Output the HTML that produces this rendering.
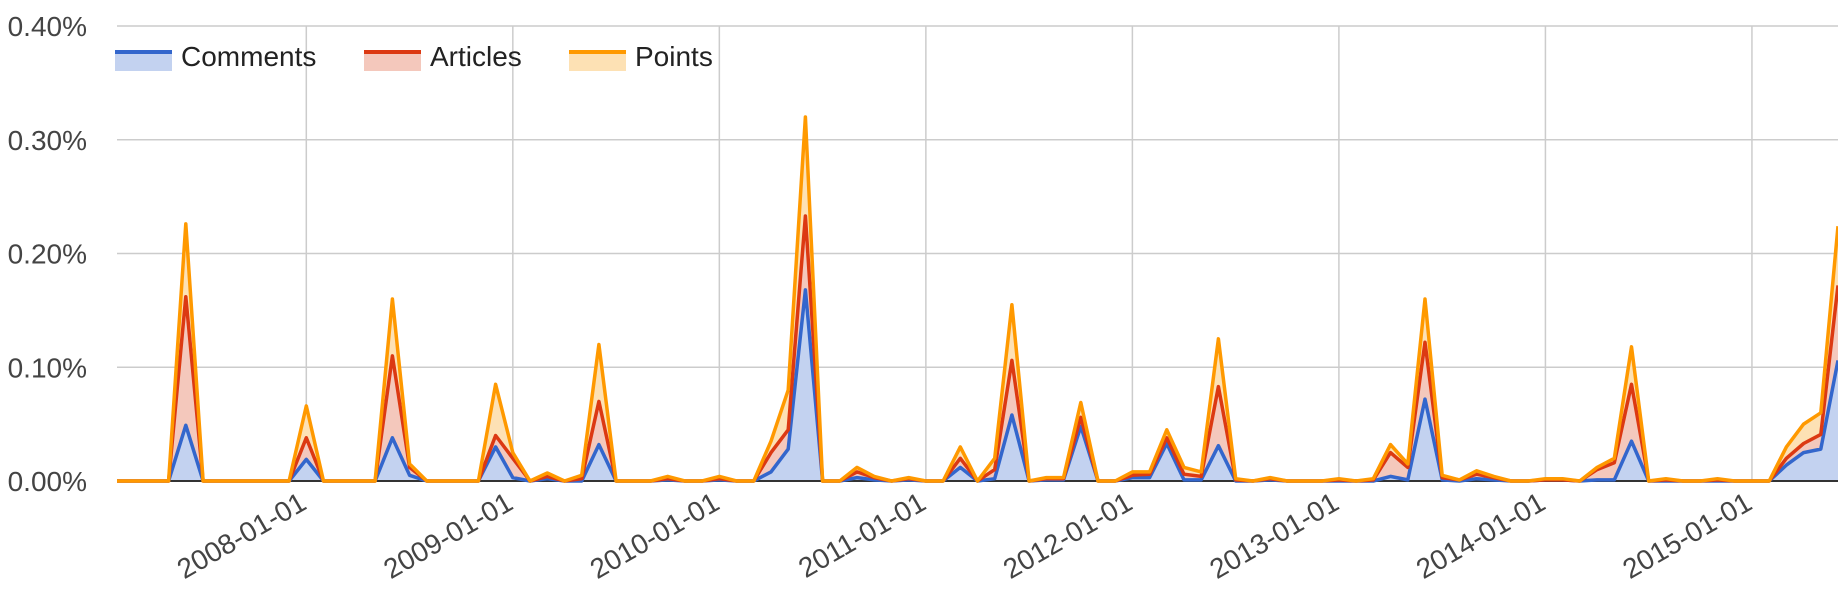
<!DOCTYPE html>
<html><head><meta charset="utf-8"><style>
html,body{margin:0;padding:0;background:#fff;width:1838px;height:590px;overflow:hidden}
svg text{font-family:"Liberation Sans",Arial,sans-serif;fill:#444}
</style></head><body>
<svg id="chart" width="1838" height="590" xmlns="http://www.w3.org/2000/svg">
<g id="grid"></g>
<g id="areas"></g>
<g id="ylabels"></g>
<g id="xlabels"></g>
<g id="legend"></g>
</svg>
<script>
// months from 2007-02 to 2015-06 (101 points)
const startYear = 2007, startMonth = 1; // 0-based month: Feb
const comments = [0,0,0,0,0.049,0,0,0,0,0,0,0.019,0,0,0,0,0.038,0.005,0,0,0,0,0.030,0.003,0,0.002,0,0,0.032,0,0,0,0.001,0,0,0.001,0,0,0.008,0.028,0.168,0,0,0.003,0.001,0,0.001,0,0,0.012,0,0.002,0.058,0,0.001,0.001,0.048,0,0,0.003,0.003,0.033,0.001,0.001,0.031,0,0,0.001,0,0,0,0,0,0,0.004,0.001,0.072,0.001,0,0.002,0.001,0,0,0.001,0.001,0,0.001,0.001,0.035,0,0,0,0,0,0,0,0,0.014,0.025,0.028,0.106];
const articles = [0,0,0,0,0.162,0,0,0,0,0,0,0.038,0,0,0,0,0.110,0.012,0,0,0,0,0.040,0.020,0,0.004,0,0.002,0.070,0,0,0,0.002,0,0,0.002,0,0,0.025,0.045,0.233,0,0,0.008,0.003,0,0.002,0,0,0.020,0,0.010,0.106,0,0.002,0.002,0.056,0,0,0.005,0.006,0.038,0.006,0.004,0.083,0.001,0,0.002,0,0,0,0.001,0,0.001,0.025,0.012,0.122,0.003,0.001,0.006,0.003,0,0,0.001,0.001,0,0.010,0.016,0.085,0,0.001,0,0,0.001,0,0,0,0.020,0.033,0.041,0.172];
const points = [0,0,0,0,0.226,0,0,0,0,0,0,0.066,0,0,0,0,0.160,0.015,0,0,0,0,0.085,0.025,0,0.007,0,0.005,0.120,0,0,0,0.004,0,0,0.004,0,0,0.035,0.080,0.320,0,0,0.012,0.004,0,0.003,0,0,0.030,0,0.020,0.155,0,0.003,0.003,0.069,0,0,0.008,0.008,0.045,0.012,0.008,0.125,0.002,0,0.003,0,0,0,0.002,0,0.002,0.032,0.015,0.160,0.005,0.001,0.009,0.004,0,0,0.002,0.002,0,0.012,0.020,0.118,0,0.002,0,0,0.002,0,0,0,0.030,0.050,0.060,0.224];
const yTicks = [0,0.1,0.2,0.3,0.4];
const yTickLabels = ["0.00%","0.10%","0.20%","0.30%","0.40%"];
const xTickYears = [2008,2009,2010,2011,2012,2013,2014,2015];
const seriesNames = ["Comments","Articles","Points"];

const NS="http://www.w3.org/2000/svg";
const L=117,R=1838,T=26,B=481,YMAX=0.4;
const N=points.length;
const xs=i=>L+i*(R-L)/(N-1);
const xm=(y,m)=>xs((y-startYear)*12+(m-startMonth));
const ys=v=>B-v/YMAX*(B-T);
function mk(tag,attrs,parent){const e=document.createElementNS(NS,tag);for(const k in attrs)e.setAttribute(k,attrs[k]);parent.appendChild(e);return e;}
const grid=document.getElementById('grid');
yTicks.forEach((t,i)=>{
  if(t===0)return;
  const l=mk('line',{x1:L,x2:R,y1:ys(t),y2:ys(t),stroke:'#cccccc','stroke-width':1.5},grid);
  
  
});
xTickYears.forEach(y=>{
  const x=xm(y,0);
  const l=mk('line',{x1:x,x2:x,y1:T,y2:B,stroke:'#cccccc','stroke-width':1.5},grid);
  
  
});
const areas=document.getElementById('areas');
const cfg=[[points,'#ff9900','#fde1b4'],[articles,'#dc3912','#f4c8bc'],[comments,'#3366cc','#c3d2f0']];
const names=['points','articles','comments'];
cfg.forEach((c,k)=>{
  const d=c[0];
  let line='';d.forEach((v,i)=>{line+=(i?'L':'M')+xs(i).toFixed(1)+','+ys(v).toFixed(1);});
  const area=line+'L'+xs(N-1)+','+B+'L'+xs(0)+','+B+'Z';
  const a=mk('path',{d:area,fill:c[2],stroke:'none'},areas);
  
  
});
const base=mk('line',{x1:L,x2:R,y1:B,y2:B,stroke:'#333','stroke-width':2},areas);


[2,1,0].forEach(k=>{
  const c=cfg[k];const d=c[0];
  let line='';d.forEach((v,i)=>{line+=(i?'L':'M')+xs(i).toFixed(1)+','+ys(v).toFixed(1);});
  const p=mk('path',{d:line,fill:'none',stroke:c[1],'stroke-width':3.5,'stroke-linejoin':'round'},areas);
  
  
});
const yl=document.getElementById('ylabels');
yTicks.forEach((t,i)=>{
  const tx=mk('text',{x:87,y:ys(t)+10,'text-anchor':'end','font-size':28},yl);
  tx.textContent=yTickLabels[i];
  
  
});
const xl=document.getElementById('xlabels');
xTickYears.forEach(y=>{
  const x=xm(y,0)+2;
  const tx=mk('text',{x:x,y:508,'text-anchor':'end','font-size':28,transform:'rotate(-30 '+x+' 508)'},xl);
  tx.textContent=y+'-01-01';
  
  
});
const lg=document.getElementById('legend');
const lcols=[['#3366cc','#c3d2f0',115],['#dc3912','#f4c8bc',364],['#ff9900','#fde1b4',569]];
lcols.forEach((c,i)=>{
  const g=mk('g',{},lg);
  
  
  mk('rect',{x:c[2],y:52,width:57,height:19,fill:c[1]},g);
  mk('rect',{x:c[2],y:50,width:57,height:4,fill:c[0]},g);
  const t=mk('text',{x:c[2]+66,y:66,'font-size':28,style:'fill:#222'},g);
  t.textContent=seriesNames[i];
});
</script>
</body></html>
